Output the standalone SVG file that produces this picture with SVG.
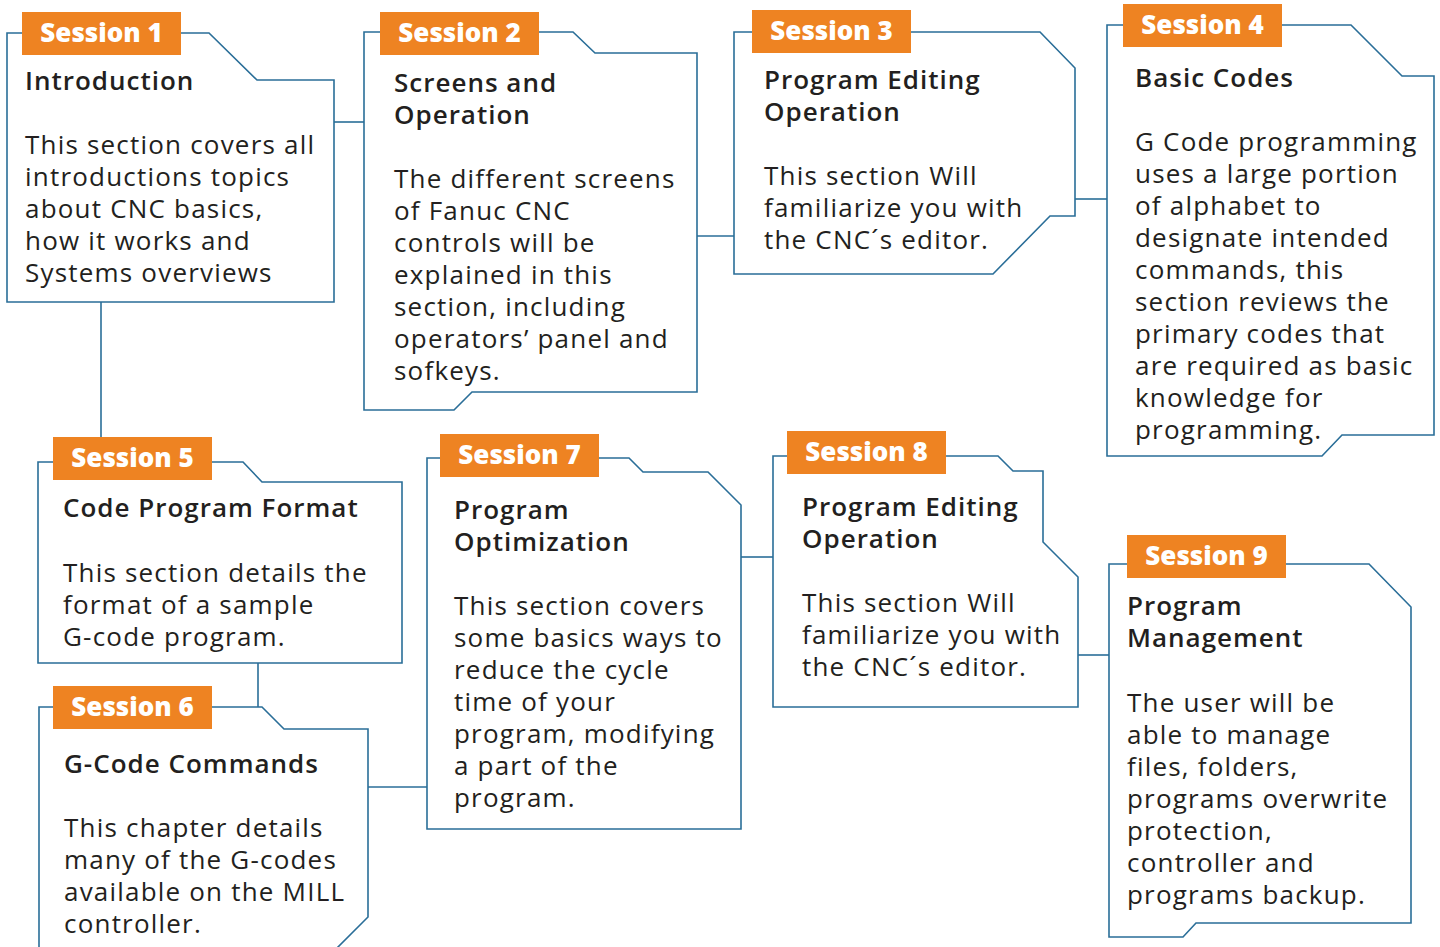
<svg xmlns="http://www.w3.org/2000/svg" width="1440" height="947" viewBox="0 0 1440 947">
<style>
.box{fill:#ffffff;stroke:#2a6e98;stroke-width:1.6;stroke-linejoin:miter}
.con{stroke:#2a6e98;stroke-width:1.6;fill:none}
.tab{fill:#ee8322}
.tl{font-family:"Open Sans","DejaVu Sans",sans-serif;font-weight:800;font-size:26px;fill:#ffffff;text-anchor:middle}
.ti{font-family:"Open Sans","DejaVu Sans",sans-serif;font-weight:600;font-size:26px;letter-spacing:1px;fill:#231f20}
.bd{font-family:"Open Sans","DejaVu Sans",sans-serif;font-weight:400;font-size:26px;letter-spacing:1.2px;fill:#231f20}
</style>
<rect width="1440" height="947" fill="#ffffff"/>
<g id="connectors">
<path class="con" d="M334,122H364"/>
<path class="con" d="M697,236H734"/>
<path class="con" d="M1075,199H1107"/>
<path class="con" d="M101,302V437"/>
<path class="con" d="M258,663V707"/>
<path class="con" d="M368,787H427"/>
<path class="con" d="M741,557H773"/>
<path class="con" d="M1078,655H1109"/>
</g>
<g id="s1">
<path class="box" d="M7,33H209L257,80H334V302H7Z"/>
<rect class="tab" x="22" y="12" width="159" height="43"/>
<text class="tl" x="101.5" y="42">Session 1</text>
<text class="ti" x="25" y="90">Introduction</text>
<text class="bd" x="25"><tspan x="25" y="154">This section covers all</tspan><tspan x="25" y="186">introductions topics</tspan><tspan x="25" y="218">about CNC basics,</tspan><tspan x="25" y="250">how it works and</tspan><tspan x="25" y="282">Systems overviews</tspan></text>
</g>
<g id="s2">
<path class="box" d="M364,32H573L595,53H697V392H472L454,410H364Z"/>
<rect class="tab" x="380" y="12" width="159" height="43"/>
<text class="tl" x="459.5" y="42">Session 2</text>
<text class="ti"><tspan x="394" y="92">Screens and</tspan><tspan x="394" y="124">Operation</tspan></text>
<text class="bd"><tspan x="394" y="188">The different screens</tspan><tspan x="394" y="220">of Fanuc CNC</tspan><tspan x="394" y="252">controls will be</tspan><tspan x="394" y="284">explained in this</tspan><tspan x="394" y="316">section, including</tspan><tspan x="394" y="348">operators’ panel and</tspan><tspan x="394" y="380">sofkeys.</tspan></text>
</g>
<g id="s3">
<path class="box" d="M734,32H1040L1075,68V216H1050L993,274H734Z"/>
<rect class="tab" x="752" y="10" width="159" height="43"/>
<text class="tl" x="831.5" y="40">Session 3</text>
<text class="ti"><tspan x="764" y="89">Program Editing</tspan><tspan x="764" y="121">Operation</tspan></text>
<text class="bd"><tspan x="764" y="185">This section Will</tspan><tspan x="764" y="217">familiarize you with</tspan><tspan x="764" y="249">the CNC´s editor.</tspan></text>
</g>
<g id="s4">
<path class="box" d="M1107,25H1351L1402,76H1434V435H1342L1322,456H1107Z"/>
<rect class="tab" x="1123" y="4" width="159" height="43"/>
<text class="tl" x="1202.5" y="34">Session 4</text>
<text class="ti" x="1135" y="87">Basic Codes</text>
<text class="bd"><tspan x="1135" y="151">G Code programming</tspan><tspan x="1135" y="183">uses a large portion</tspan><tspan x="1135" y="215">of alphabet to</tspan><tspan x="1135" y="247">designate intended</tspan><tspan x="1135" y="279">commands, this</tspan><tspan x="1135" y="311">section reviews the</tspan><tspan x="1135" y="343">primary codes that</tspan><tspan x="1135" y="375">are required as basic</tspan><tspan x="1135" y="407">knowledge for</tspan><tspan x="1135" y="439">programming.</tspan></text>
</g>
<g id="s5">
<path class="box" d="M38,462H243L262,482H402V663H38Z"/>
<rect class="tab" x="53" y="437" width="159" height="43"/>
<text class="tl" x="132.5" y="467">Session 5</text>
<text class="ti" x="63" y="517">Code Program Format</text>
<text class="bd"><tspan x="63" y="582">This section details the</tspan><tspan x="63" y="614">format of a sample</tspan><tspan x="63" y="646">G-code program.</tspan></text>
</g>
<g id="s6">
<path class="box" d="M39,948V707H262L284,729H368V917L337,948"/>
<rect class="tab" x="53" y="686" width="159" height="43"/>
<text class="tl" x="132.5" y="716">Session 6</text>
<text class="ti" x="64" y="773">G-Code Commands</text>
<text class="bd"><tspan x="64" y="837">This chapter details</tspan><tspan x="64" y="869">many of the G-codes</tspan><tspan x="64" y="901">available on the MILL</tspan><tspan x="64" y="933">controller.</tspan></text>
</g>
<g id="s7">
<path class="box" d="M427,458H629L643,472H708L741,505V829H427Z"/>
<rect class="tab" x="440" y="434" width="159" height="43"/>
<text class="tl" x="519.5" y="464">Session 7</text>
<text class="ti"><tspan x="454" y="519">Program</tspan><tspan x="454" y="551">Optimization</tspan></text>
<text class="bd"><tspan x="454" y="615">This section covers</tspan><tspan x="454" y="647">some basics ways to</tspan><tspan x="454" y="679">reduce the cycle</tspan><tspan x="454" y="711">time of your</tspan><tspan x="454" y="743">program, modifying</tspan><tspan x="454" y="775">a part of the</tspan><tspan x="454" y="807">program.</tspan></text>
</g>
<g id="s8">
<path class="box" d="M773,456H998L1013,471H1043V542L1078,577V707H773Z"/>
<rect class="tab" x="787" y="431" width="159" height="43"/>
<text class="tl" x="866.5" y="461">Session 8</text>
<text class="ti"><tspan x="802" y="516">Program Editing</tspan><tspan x="802" y="548">Operation</tspan></text>
<text class="bd"><tspan x="802" y="612">This section Will</tspan><tspan x="802" y="644">familiarize you with</tspan><tspan x="802" y="676">the CNC´s editor.</tspan></text>
</g>
<g id="s9">
<path class="box" d="M1109,564H1369L1411,607V923H1196L1183,937H1109Z"/>
<rect class="tab" x="1127" y="535" width="159" height="43"/>
<text class="tl" x="1206.5" y="565">Session 9</text>
<text class="ti"><tspan x="1127" y="615">Program</tspan><tspan x="1127" y="647">Management</tspan></text>
<text class="bd"><tspan x="1127" y="712">The user will be</tspan><tspan x="1127" y="744">able to manage</tspan><tspan x="1127" y="776">files, folders,</tspan><tspan x="1127" y="808">programs overwrite</tspan><tspan x="1127" y="840">protection,</tspan><tspan x="1127" y="872">controller and</tspan><tspan x="1127" y="904">programs backup.</tspan></text>
</g>
</svg>
